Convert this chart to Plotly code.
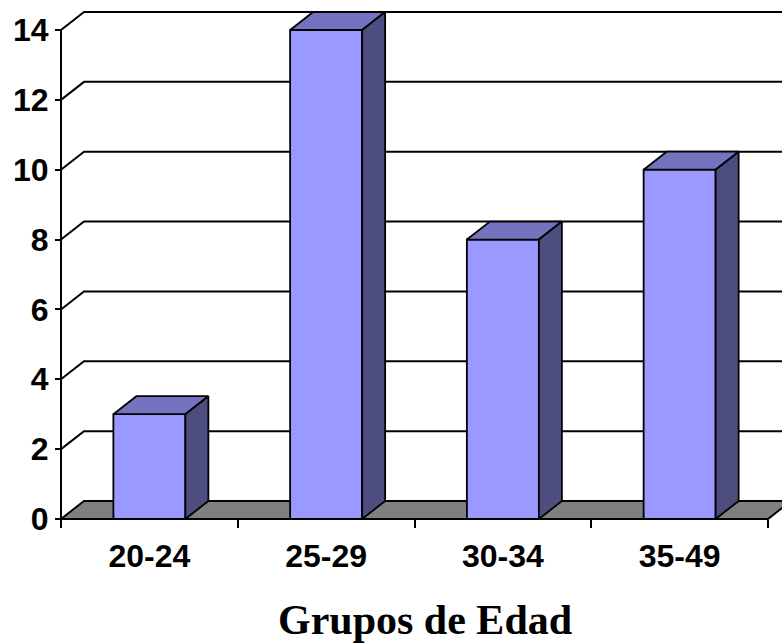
import plotly.graph_objects as go

categories = ["20-24", "25-29", "30-34", "35-49"]
values = [3, 14, 8, 10]
y_ticks = [0, 2, 4, 6, 8, 10, 12, 14]
x_title = "Grupos de Edad"

# geometry (in data units)
W, H = 782, 643
px_per_cat = 176.75
px_per_val = 34.93
x0_px, y0_px = 61, 519
DX = 23 / px_per_cat     # depth offset (categories)
DY = 18 / px_per_val     # depth offset (values)
BW = 72 / px_per_cat     # bar width

x_lo = -0.5 - x0_px / px_per_cat
x_hi = -0.5 + (W - x0_px) / px_per_cat
y_lo = -(H - y0_px) / px_per_val
y_hi = y0_px / px_per_val

n = len(categories)
xs = list(range(n))
left, right = -0.5, n - 0.5

fig = go.Figure()
LW = 2

# back wall gridlines
gx, gy = [], []
for v in y_ticks[1:]:
    gx += [left, left + DX, x_hi + 1, None]
    gy += [v, v + DY, v + DY, None]
fig.add_trace(go.Scatter(x=gx, y=gy, mode="lines", line=dict(color="black", width=LW),
                         hoverinfo="skip", showlegend=False))

# y axis line (front)
fig.add_trace(go.Scatter(x=[left, left], y=[0, max(y_ticks)], mode="lines",
                         line=dict(color="black", width=LW), hoverinfo="skip", showlegend=False))

# floor
fig.add_trace(go.Scatter(x=[left, right, right + DX, x_hi + 1, x_hi + 1, left + DX, left],
                         y=[0, 0, DY, DY, DY, DY, 0], mode="lines", fill="toself",
                         fillcolor="#808080", line=dict(color="black", width=LW),
                         hoverinfo="skip", showlegend=False))

# bars
fx, fy, tx, ty, sx, sy = [], [], [], [], [], []
for i, v in zip(xs, values):
    a, b = i - BW / 2, i + BW / 2
    fx += [a, b, b, a, a, None]
    fy += [0, 0, v, v, 0, None]
    tx += [a, b, b + DX, a + DX, a, None]
    ty += [v, v, v + DY, v + DY, v, None]
    sx += [b, b + DX, b + DX, b, b, None]
    sy += [0, DY, v + DY, v, 0, None]

for px_, py_, col in [(fx, fy, "#9999FF"), (tx, ty, "#7373BF"), (sx, sy, "#4D4D80")]:
    fig.add_trace(go.Scatter(x=px_, y=py_, mode="lines", fill="toself", fillcolor=col,
                             line=dict(color="black", width=1.8), hoverinfo="skip",
                             showlegend=False))

# front floor edge
fig.add_trace(go.Scatter(x=[left, right], y=[0, 0], mode="lines",
                         line=dict(color="black", width=LW), hoverinfo="skip", showlegend=False))

tick_font = dict(family="Liberation Sans, Arial, sans-serif", size=32, color="black", weight="bold")
pos = (H - y0_px) / H

fig.update_layout(
    width=W, height=H,
    margin=dict(l=0, r=0, t=0, b=0),
    paper_bgcolor="white", plot_bgcolor="white",
    showlegend=False,
    xaxis=dict(range=[x_lo, x_hi], domain=[0, 1], anchor="free", position=pos,
               tickvals=xs, ticktext=categories, ticks="", showgrid=False,
               zeroline=False, showline=False, tickfont=tick_font, ticklabelstandoff=15),
    xaxis2=dict(range=[x_lo, x_hi], overlaying="x", anchor="free", position=pos, side="bottom",
                tickvals=[i - 0.5 for i in range(n + 1)], ticks="outside", ticklen=8,
                tickwidth=2, tickcolor="black", showticklabels=False, showgrid=False,
                zeroline=False, showline=False),
    yaxis=dict(range=[y_lo, y_hi], domain=[0, 1], anchor="free", position=x0_px / W,
               tickvals=y_ticks, ticks="outside", ticklen=6, tickwidth=2, tickcolor="black",
               showgrid=False, zeroline=False, showline=False, tickfont=tick_font),
    annotations=[dict(text=x_title, xref="paper", yref="paper", x=425 / W, y=1 - 620 / H,
                      xanchor="center", yanchor="middle", showarrow=False,
                      font=dict(family="Liberation Serif, Times New Roman, serif", size=42,
                                color="black", weight="bold"))],
)

# dummy trace to activate xaxis2
fig.add_trace(go.Scatter(x=[None], y=[None], xaxis="x2", showlegend=False, hoverinfo="skip"))

fig.write_html("out.html")
